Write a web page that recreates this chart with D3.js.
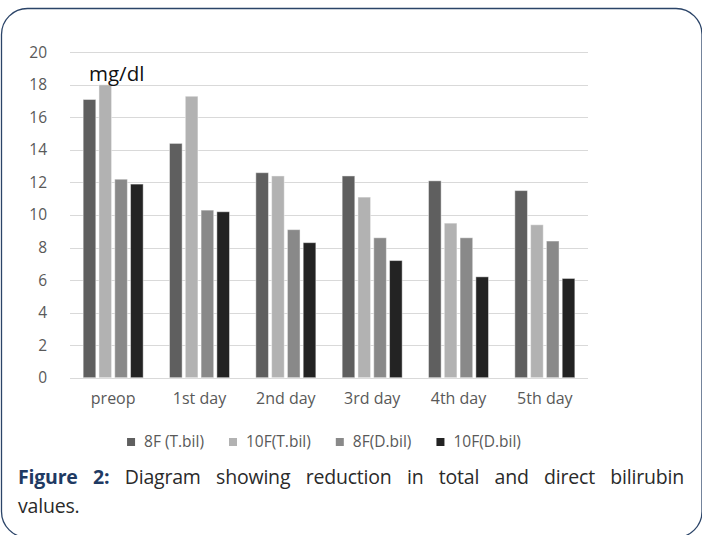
<!DOCTYPE html>
<html>
<head>
<meta charset="utf-8">
<script src="https://cdnjs.cloudflare.com/ajax/libs/d3/7.8.5/d3.min.js"></script>
<style>
  html, body { margin: 0; padding: 0; background: #fff; }
  #wrap { position: relative; width: 702px; height: 535px; overflow: hidden; }
  svg { position: absolute; left: 0; top: 0; }
  .cap { position: absolute; left: 18px; width: 666px; font-family: "Open Sans", sans-serif; font-size: 19.5px; color: #2a2a2a; white-space: nowrap; }
  .cap1 { top: 463px; text-align: justify; text-align-last: justify; white-space: normal; letter-spacing: -0.2px; }
  .cap2 { top: 492px; letter-spacing: -0.2px; }
  .cap b { color: #1f3a63; }
</style>
</head>
<body>
<div id="wrap">
  <svg id="chart" width="702" height="535"></svg>
  <div class="cap cap1"><b>Figure 2:</b> Diagram showing reduction in total and direct bilirubin</div>
  <div class="cap cap2">values.</div>
</div>
<script>
const categories = ["preop", "1st day", "2nd day", "3rd day", "4th day", "5th day"];
const seriesNames = ["8F (T.bil)", "10F(T.bil)", "8F(D.bil)", "10F(D.bil)"];
const s8FT  = [17.1, 14.4, 12.6, 12.4, 12.1, 11.5];
const s10FT = [18.0, 17.3, 12.4, 11.1, 9.5, 9.4];
const s8FD  = [12.2, 10.3, 9.1, 8.6, 8.6, 8.4];
const s10FD = [11.9, 10.2, 8.3, 7.2, 6.2, 6.1];
const yTicks = [0, 2, 4, 6, 8, 10, 12, 14, 16, 18, 20];
const unitLabel = "mg/dl";

const seriesValues = [s8FT, s10FT, s8FD, s10FD];
const colors = ["#5f5f5f", "#b2b2b2", "#898989", "#232323"];

const svg = d3.select("#chart");
const font = "'Open Sans', sans-serif";
const textColor = "#595959";

// border
svg.append("rect")
  .attr("x", 1.5).attr("y", 8.5).attr("width", 700.5).attr("height", 529)
  .attr("rx", 26).attr("ry", 26)
  .attr("fill", "none").attr("stroke", "#2b4468").attr("stroke-width", 1.3);

const x0 = d3.scaleBand().domain(categories).range([70, 588]).paddingInner(0.305).paddingOuter(0.1525);
const x1 = d3.scaleBand().domain(seriesNames).range([0, x0.bandwidth()]).paddingInner(0.2);
const y = d3.scaleLinear().domain([0, 20]).range([377.7, 52.3]);

// gridlines
svg.append("g").selectAll("line").data(yTicks).join("line")
  .attr("x1", 70).attr("x2", 588)
  .attr("y1", d => Math.round(y(d)) + 0.5).attr("y2", d => Math.round(y(d)) + 0.5)
  .attr("stroke", "#d9d9d9").attr("stroke-width", 1.2);

// y axis labels
const yAxis = d3.axisLeft(y).tickValues(yTicks).tickSize(0).tickPadding(0);
const gy = svg.append("g").attr("transform", "translate(47,0)").call(yAxis);
gy.select(".domain").remove();
gy.selectAll("text").attr("font-family", font).attr("font-size", 15.5).attr("fill", textColor);

// bars
const groups = svg.append("g").selectAll("g").data(categories).join("g")
  .attr("transform", d => `translate(${x0(d)},0)`);
groups.selectAll("rect").data((c, i) => seriesNames.map((s, j) => ({ s, v: seriesValues[j][i], j })))
  .join("rect")
  .attr("x", d => x1(d.s))
  .attr("width", x1.bandwidth())
  .attr("y", d => y(d.v))
  .attr("height", d => y(0) - y(d.v))
  .attr("fill", d => colors[d.j])
  .attr("stroke", "rgba(255,255,255,0.45)").attr("stroke-width", 1);

// x axis labels
const xAxis = d3.axisBottom(x0).tickSize(0).tickPadding(0);
const gx = svg.append("g").attr("transform", "translate(0,393)").call(xAxis);
gx.select(".domain").remove();
gx.selectAll("text").attr("font-family", font).attr("font-size", 16).attr("fill", textColor);

// unit label
svg.append("text").attr("x", 89).attr("y", 81).text(unitLabel)
  .attr("font-family", font).attr("font-size", 20.5).attr("fill", "#111");

// legend
const leg = svg.append("g");
const sq = 8, gapT = 9, gapI = 25;
let cx = 0;
seriesNames.forEach((s, j) => {
  const g = leg.append("g");
  g.append("rect").attr("x", 0).attr("y", -sq / 2).attr("width", sq).attr("height", sq).attr("fill", colors[j]);
  const t = g.append("text").attr("x", sq + gapT).attr("y", 0).attr("dy", "0.35em").text(s)
    .attr("font-family", font).attr("font-size", 15.5).attr("fill", textColor);
  const w = sq + gapT + t.node().getComputedTextLength();
  g.attr("transform", `translate(${cx},0)`);
  cx += w + gapI;
});
const totalW = cx - gapI;
leg.attr("transform", `translate(${324 - totalW / 2},442)`);
</script>
</body>
</html>
